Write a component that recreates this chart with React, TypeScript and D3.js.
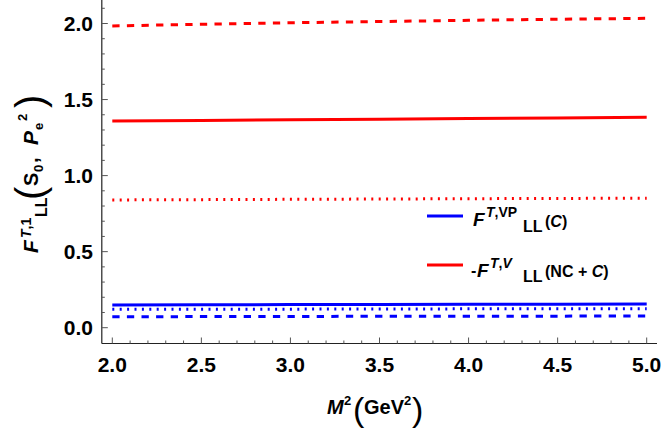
import * as d3 from "d3";
import React from "react";

// M^2 grid (GeV^2)
const m2 = [2.0, 2.5, 3.0, 3.5, 4.0, 4.5, 5.0];

// red: -F^{T,V}_{LL}(NC + C)
const redDashed = [1.984, 1.995, 2.005, 2.013, 2.021, 2.028, 2.034];
const redSolid = [1.359, 1.363, 1.367, 1.371, 1.375, 1.379, 1.383];
const redDotted = [0.84, 0.842, 0.844, 0.846, 0.848, 0.85, 0.851];

// blue: F^{T,VP}_{LL}(C)
const blueSolid = [0.15, 0.151, 0.152, 0.153, 0.154, 0.155, 0.156];
const blueDotted = [0.121, 0.122, 0.122, 0.123, 0.124, 0.124, 0.125];
const blueDashed = [0.072, 0.073, 0.074, 0.075, 0.075, 0.076, 0.077];

const xTickLabels = ["2.0", "2.5", "3.0", "3.5", "4.0", "4.5", "5.0"];
const yTickLabels = ["0.0", "0.5", "1.0", "1.5", "2.0"];

const RED = "#ff0000";
const BLUE = "#0000ff";
const FONT = "'Liberation Sans', Arial, sans-serif";

export default function App() {
  const width = 664;
  const height = 438;

  const x = d3.scaleLinear().domain([2, 5]).range([112.3, 646.7]);
  const y = d3.scaleLinear().domain([0, 2]).range([327.7, 23.5]);

  const line = d3
    .line<number>()
    .x((_, i) => x(m2[i]))
    .y((d) => y(d));

  const series = [
    { v: redDashed, c: RED, dash: "7.3,7.3" },
    { v: redSolid, c: RED, dash: null },
    { v: redDotted, c: RED, dash: "2,5.4" },
    { v: blueSolid, c: BLUE, dash: null },
    { v: blueDotted, c: BLUE, dash: "2,5.4" },
    { v: blueDashed, c: BLUE, dash: "7.3,7.3" },
  ];

  const xAxisY = 343.5;
  const yAxisX = 101.8;

  const xMinor = d3.range(20, 51).map((d) => d / 10);
  const yMinor = d3.range(0, 22).map((d) => d / 10);

  return (
    <svg
      width={width}
      height={height}
      style={{ position: "absolute", left: 0, top: 0, background: "#fff" }}
      fontFamily={FONT}
    >
      {/* axes */}
      <line x1={yAxisX} x2={657} y1={xAxisY} y2={xAxisY} stroke="#222" strokeWidth={1.2} />
      <line x1={yAxisX} x2={yAxisX} y1={0} y2={xAxisY} stroke="#222" strokeWidth={1.2} />

      {xMinor.map((t) => {
        const major = Math.abs(t * 2 - Math.round(t * 2)) < 1e-6;
        return (
          <line
            key={"xt" + t}
            x1={x(t)}
            x2={x(t)}
            y1={xAxisY}
            y2={xAxisY - (major ? 6 : 3)}
            stroke="#555"
            strokeWidth={1}
          />
        );
      })}
      {yMinor.map((t) => {
        const major = Math.abs(t * 2 - Math.round(t * 2)) < 1e-6;
        return (
          <line
            key={"yt" + t}
            x1={yAxisX}
            x2={yAxisX + (major ? 6 : 3)}
            y1={y(t)}
            y2={y(t)}
            stroke="#555"
            strokeWidth={1}
          />
        );
      })}

      {xTickLabels.map((s) => (
        <text
          key={"xl" + s}
          x={x(+s)}
          y={372}
          textAnchor="middle"
          fontSize={21}
          fontWeight="bold"
        >
          {s}
        </text>
      ))}
      {yTickLabels.map((s) => (
        <text
          key={"yl" + s}
          x={93}
          y={y(+s)}
          dy="0.36em"
          textAnchor="end"
          fontSize={21}
          fontWeight="bold"
        >
          {s}
        </text>
      ))}

      {/* curves */}
      {series.map((s, i) => (
        <path
          key={"s" + i}
          d={line(s.v) || ""}
          fill="none"
          stroke={s.c}
          strokeWidth={3}
          strokeDasharray={s.dash || undefined}
        />
      ))}

      {/* legend */}
      <line x1={427} x2={463} y1={216} y2={216} stroke={BLUE} strokeWidth={3} />
      <text fontWeight="bold" fill="#000">
        <tspan x={473} y={226} fontSize={19} fontStyle="italic">F</tspan>
        <tspan x={486} y={217} fontSize={14}>
          <tspan fontStyle="italic">T</tspan>,VP
        </tspan>
        <tspan x={523} y={232} fontSize={16}>LL</tspan>
        <tspan x={545} y={227} fontSize={16}>
          (<tspan fontStyle="italic">C</tspan>)
        </tspan>
      </text>

      <line x1={427} x2={463} y1={265} y2={265} stroke={RED} strokeWidth={3} />
      <text fontWeight="bold" fill="#000">
        <tspan x={471} y={276} fontSize={16}>-</tspan>
        <tspan x={477} y={277} fontSize={19} fontStyle="italic">F</tspan>
        <tspan x={490} y={268} fontSize={14}>
          <tspan fontStyle="italic">T</tspan>,<tspan fontStyle="italic">V</tspan>
        </tspan>
        <tspan x={523} y={282} fontSize={16}>LL</tspan>
        <tspan x={545} y={277} fontSize={16}>
          (NC + <tspan fontStyle="italic">C</tspan>)
        </tspan>
      </text>

      {/* x axis title */}
      <text fontWeight="bold" fill="#000">
        <tspan x={327} y={414} fontSize={20} fontStyle="italic">M</tspan>
        <tspan x={344} y={405} fontSize={13}>2</tspan>
        <tspan x={353} y={421} fontSize={34} fontWeight="normal">(</tspan>
        <tspan x={364} y={414} fontSize={20}>GeV</tspan>
        <tspan x={404} y={405} fontSize={13}>2</tspan>
        <tspan x={412} y={421} fontSize={34} fontWeight="normal">)</tspan>
      </text>

      {/* y axis title */}
      <g transform="translate(38,253) rotate(-90)">
        <text fontWeight="bold" fill="#000">
          <tspan x={0} y={0} fontSize={21} fontStyle="italic">F</tspan>
          <tspan x={15} y={-7} fontSize={14}>
            <tspan fontStyle="italic">T</tspan>,1
          </tspan>
          <tspan x={36} y={9} fontSize={16}>LL</tspan>
          <tspan x={53} y={6} fontSize={40} fontWeight="normal">(</tspan>
          <tspan x={67} y={0} fontSize={20}>S</tspan>
          <tspan x={81} y={5} fontSize={13}>0</tspan>
          <tspan x={90} y={0} fontSize={20}>,</tspan>
          <tspan x={108} y={0} fontSize={21} fontStyle="italic">P</tspan>
          <tspan x={123} y={5} fontSize={13}>e</tspan>
          <tspan x={132} y={-11} fontSize={13}>2</tspan>
          <tspan x={145} y={6} fontSize={40} fontWeight="normal">)</tspan>
        </text>
      </g>
    </svg>
  );
}
